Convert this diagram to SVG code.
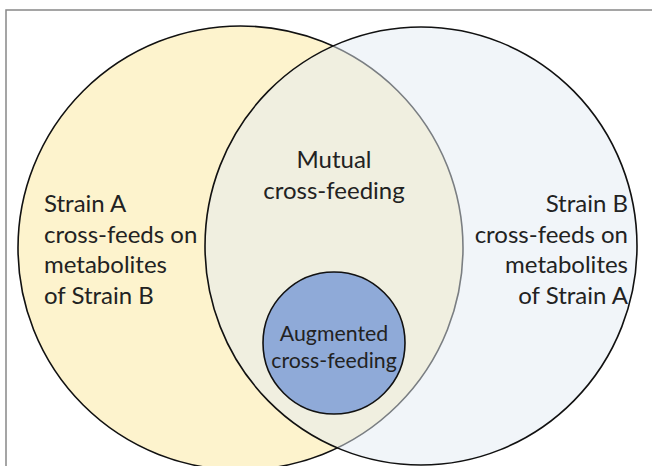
<svg xmlns="http://www.w3.org/2000/svg" width="652" height="466" viewBox="0 0 652 466">
<style>
.t{font-family:Lato,"Liberation Sans",sans-serif;font-size:24px;fill:#222}
.s{font-family:Lato,"Liberation Sans",sans-serif;font-size:21.3px;fill:#222}
</style>
<rect x="0" y="0" width="652" height="466" fill="#fff"/>
<path d="M6 470 V10 H660" fill="none" stroke="#888" stroke-width="1.5"/>
<g id="strainA">
<ellipse cx="240.5" cy="248" rx="222.5" ry="222" fill="#fdf3cd" stroke="#111" stroke-width="1.6"/>
</g>
<g id="strainB">
<ellipse cx="421" cy="246" rx="216" ry="219" fill="rgb(228,235,243)" fill-opacity="0.5" stroke="#111" stroke-width="1.6"/>
</g>
<g id="augmented">
<ellipse cx="334" cy="343" rx="71" ry="71" fill="#8faad8" stroke="#111" stroke-width="1.6"/>
<text class="s" text-anchor="middle" x="334" y="341">Augmented</text>
<text class="s" text-anchor="middle" x="334" y="368">cross-feeding</text>
</g>
<g id="connectors"></g>
<g id="labelA">
<text class="t" x="44" y="212">Strain A</text>
<text class="t" x="44" y="243">cross-feeds on</text>
<text class="t" x="44" y="273">metabolites</text>
<text class="t" x="44" y="304">of Strain B</text>
</g>
<g id="labelB">
<text class="t" text-anchor="end" x="628" y="212">Strain B</text>
<text class="t" text-anchor="end" x="628" y="243">cross-feeds on</text>
<text class="t" text-anchor="end" x="628" y="273">metabolites</text>
<text class="t" text-anchor="end" x="628" y="304">of Strain A</text>
</g>
<g id="mutual">
<text class="t" text-anchor="middle" x="334" y="168">Mutual</text>
<text class="t" text-anchor="middle" x="334" y="199">cross-feeding</text>
</g>
</svg>
